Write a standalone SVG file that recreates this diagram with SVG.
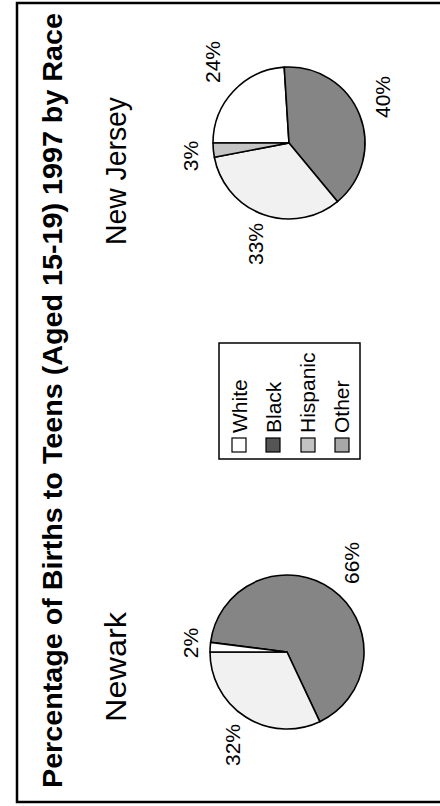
<svg xmlns="http://www.w3.org/2000/svg" width="440" height="806" viewBox="0 0 440 806">
<style>
text{font-family:"Liberation Sans",Arial,sans-serif;fill:#000}
.title{font-size:27px;font-weight:bold}
.city{font-size:29px}
.pct{font-size:21px;text-anchor:middle}
.leg{font-size:21px}
.slice{stroke:#000;stroke-width:1.6;stroke-linejoin:round}
.white{fill:#fff}
.black{fill:#858585}
.hisp{fill:#f1f1f1}
.other{fill:#c4c4c4}
.sw{stroke:#000;stroke-width:1.2}
</style>
<rect width="440" height="806" fill="#fff"/>
<path d="M440,3 H17 V802 H440" fill="none" stroke="#000" stroke-width="2.5"/>
<g id="title">
<text class="title" transform="translate(62,788) rotate(-90)" textLength="775" lengthAdjust="spacingAndGlyphs">Percentage of Births to Teens (Aged 15-19) 1997 by Race</text>
</g>
<g id="newark">
<text class="city" transform="translate(126,722) rotate(-90)" textLength="110" lengthAdjust="spacingAndGlyphs">Newark</text>
<path class="slice black" d="M287,652 L210.61,642.35 A77,77 0 1 1 319.79,721.67 Z"/>
<path class="slice hisp" d="M287,652 L319.79,721.67 A77,77 0 0 1 210,652 Z"/>
<path class="slice white" d="M287,652 L210,652 A77,77 0 0 1 210.61,642.35 Z"/>
<text class="pct" transform="translate(359,563) rotate(-90)">66%</text>
<text class="pct" transform="translate(198,643) rotate(-90)">2%</text>
<text class="pct" transform="translate(240,745) rotate(-90)">32%</text>
</g>
<g id="newjersey">
<text class="city" transform="translate(126,245) rotate(-90)" textLength="148" lengthAdjust="spacingAndGlyphs">New Jersey</text>
<path class="slice white" d="M289,143 L213,143 A76,76 0 0 1 284.23,67.15 Z"/>
<path class="slice black" d="M289,143 L284.23,67.15 A76,76 0 0 1 337.44,201.56 Z"/>
<path class="slice hisp" d="M289,143 L337.44,201.56 A76,76 0 0 1 214.35,157.24 Z"/>
<path class="slice other" d="M289,143 L214.35,157.24 A76,76 0 0 1 213,143 Z"/>
<text class="pct" transform="translate(220,62) rotate(-90)">24%</text>
<text class="pct" transform="translate(390,97) rotate(-90)">40%</text>
<text class="pct" transform="translate(198,156) rotate(-90)">3%</text>
<text class="pct" transform="translate(263,244) rotate(-90)">33%</text>
</g>
<g id="legend">
<rect x="219" y="343" width="141" height="116" fill="#fff" stroke="#000" stroke-width="1.5"/>
<rect class="sw" x="232" y="438" width="14" height="14" fill="#fff"/>
<rect class="sw" x="266" y="438" width="14" height="14" fill="#555"/>
<rect class="sw" x="301" y="438" width="14" height="14" fill="#c2c2c2"/>
<rect class="sw" x="335" y="438" width="14" height="14" fill="#a8a8a8"/>
<text class="leg" transform="translate(247,433) rotate(-90)">White</text>
<text class="leg" transform="translate(281,433) rotate(-90)">Black</text>
<text class="leg" transform="translate(315,433) rotate(-90)">Hispanic</text>
<text class="leg" transform="translate(349,433) rotate(-90)">Other</text>
</g>
</svg>
